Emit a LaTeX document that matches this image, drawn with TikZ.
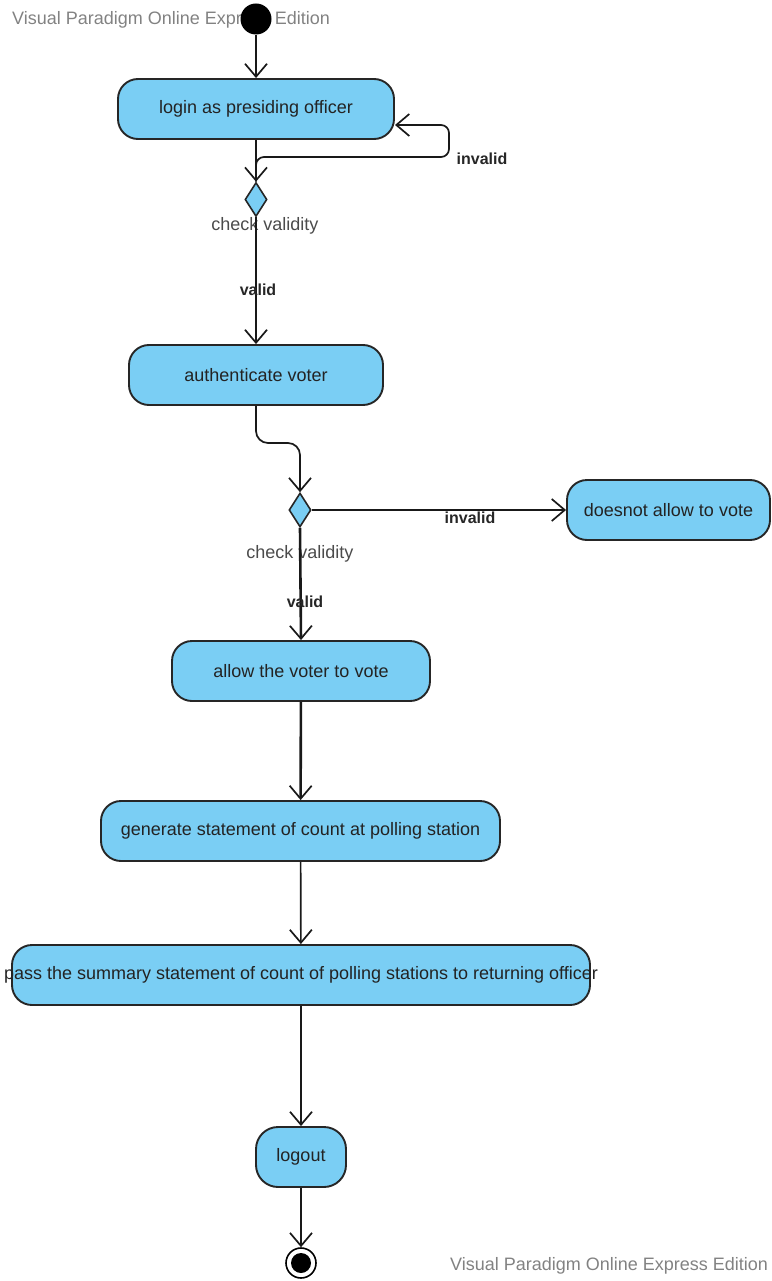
\documentclass[tikz,border=0pt]{standalone}
\usepackage{fontspec}
\setmainfont{Liberation Sans}
\usetikzlibrary{shapes.geometric,arrows.meta}
\definecolor{actfill}{RGB}{122,206,244}
\definecolor{txtcol}{RGB}{35,35,35}
\definecolor{wmcol}{RGB}{130,130,130}
\definecolor{lblgray}{RGB}{75,75,75}
\tikzset{
  act/.style={draw=black!85, line width=1.9pt, fill=actfill, rounded corners=20pt, minimum height=60pt, inner sep=0pt, text=txtcol, font=\fontsize{18}{21}\selectfont},
  dec/.style={draw=black!85, line width=1.6pt, fill=actfill, diamond, inner sep=0pt, minimum width=22pt, minimum height=34pt},
  flow/.style={draw=black!90, line width=1.7pt, -{Straight Barb[length=13pt,width=22pt,line width=1.7pt]}},
  thickflow/.style={flow, line width=2.6pt},
  glbl/.style={font=\bfseries\fontsize{16}{18}\selectfont, text=black!85},
  clbl/.style={font=\fontsize{18}{21}\selectfont, text=lblgray},
  wm/.style={font=\fontsize{18}{21}\selectfont, text=wmcol, anchor=west, inner sep=0pt}
}
\begin{document}
\begin{tikzpicture}[x=1pt,y=-1pt]
\useasboundingbox (0,0) rectangle (771,1281);
% watermarks
\node[wm] (wm1) at (12,20) {Visual Paradigm Online Express Edition};
% start
\node[circle, fill=black, minimum size=31pt, inner sep=0pt] (start) at (256,19) {};
% activities
\node[act, minimum width=276pt] (login) at (256,109) {login as presiding officer};
\node[dec] (d1) at (256,199.5) {};
\node[act, minimum width=254pt] (auth) at (256,375) {authenticate voter};
\node[dec] (d2) at (300,510) {};
\node[act, minimum width=203pt] (deny) at (668.5,510) {doesnot allow to vote};
\node[act, minimum width=258pt] (allow) at (301,671) {allow the voter to vote};
\node[act, minimum width=399pt] (gen) at (300.5,831) {generate statement of count at polling station};
\node[act, minimum width=578pt] (pass) at (301,975) {};
\node[font=\fontsize{18}{21}\selectfont, text=txtcol, inner sep=0pt] (passtxt) at (pass.center) {pass the summary statement of count of polling stations to returning officer};
\node[act, minimum width=90pt, rounded corners=22pt] (logout) at (301,1157) {logout};
% end
\node[circle, draw=black, line width=1.6pt, fill=white, minimum size=30pt, inner sep=0pt] (end) at (301,1263) {};
\node[circle, fill=black, minimum size=20pt, inner sep=0pt] (endin) at (end.center) {};
\node[wm] (wm2) at (450,1266) {Visual Paradigm Online Express Edition};
% coordinates
\coordinate (loopin) at (395,125);
\coordinate (loopr) at (449,157);
\coordinate (bend) at (300,443);
% flows
\draw[flow] (start) -- (login);
\draw[flow] (login) -- (d1);
\draw[flow, rounded corners=8pt] (d1.north) |- (loopr) |- (loopin);
\node[glbl] (inv1) at (482,159) {invalid};
\node[clbl] (cv1) at (265,226) {check validity};
\draw[flow] (d1.south) -- (auth.north);
\node[glbl] (val1) at (258,290) {valid};
\draw[flow, rounded corners=12pt] (auth.south) |- (bend) -- (d2.north);
\draw[flow] (d2.east) -- (deny.west);
\node[glbl] (inv2) at (470,518) {invalid};
\node[clbl] (cv2) at (300,554) {check validity};
\draw[thickflow] (d2.south) -- (allow.north);
\node[glbl] (val2) at (305,602) {valid};
\draw[thickflow] (allow) -- (gen);
\draw[flow] (gen) -- (pass);
\draw[flow] (pass) -- (logout);
\draw[flow] (logout) -- (end);
\end{tikzpicture}
\end{document}
